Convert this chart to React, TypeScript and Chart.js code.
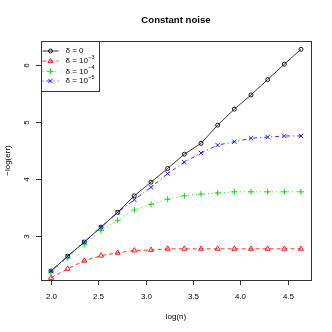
import React, { useEffect, useRef } from "react";
import { Chart, registerables } from "chart.js";

Chart.register(...registerables);

const xVals = [2.0, 2.176, 2.352, 2.528, 2.704, 2.88, 3.056, 3.232, 3.408, 3.584, 3.76, 3.936, 4.112, 4.288, 4.464, 4.64];
const delta0 = [2.38, 2.64, 2.89, 3.15, 3.41, 3.70, 3.94, 4.18, 4.43, 4.62, 4.94, 5.22, 5.47, 5.74, 6.01, 6.27];
const delta3 = [2.26, 2.42, 2.56, 2.65, 2.70, 2.74, 2.75, 2.77, 2.77, 2.77, 2.77, 2.77, 2.77, 2.77, 2.77, 2.77];
const delta4 = [2.36, 2.61, 2.85, 3.09, 3.27, 3.45, 3.55, 3.64, 3.70, 3.73, 3.75, 3.77, 3.77, 3.77, 3.77, 3.77];
const delta5 = [2.38, 2.64, 2.89, 3.15, 3.41, 3.63, 3.85, 4.09, 4.29, 4.45, 4.59, 4.65, 4.71, 4.73, 4.75, 4.75];
const xTicks = [2.0, 2.5, 3.0, 3.5, 4.0, 4.5];
const yTicks = [3, 4, 5, 6];
const legendExps = ["", "\u22123", "\u22124", "\u22125"];

const FONT = "'Liberation Sans', Arial, Helvetica, sans-serif";

const seriesStyle = [
  { color: "#000000", dash: [] as number[], point: "circle" },
  { color: "#ff0000", dash: [4, 3], point: "triangle" },
  { color: "#00cd00", dash: [1, 3], point: "plus" },
  { color: "#0000ff", dash: [1, 3, 4, 3], point: "x" },
];

function drawMarker(ctx: CanvasRenderingContext2D, kind: string, x: number, y: number, color: string) {
  ctx.save();
  ctx.strokeStyle = color;
  ctx.lineWidth = 0.9;
  ctx.setLineDash([]);
  ctx.beginPath();
  if (kind === "circle") {
    ctx.arc(x, y, 2, 0, Math.PI * 2);
  } else if (kind === "triangle") {
    ctx.moveTo(x, y - 2.6);
    ctx.lineTo(x + 2.5, y + 1.6);
    ctx.lineTo(x - 2.5, y + 1.6);
    ctx.closePath();
  } else if (kind === "plus") {
    ctx.moveTo(x - 3, y);
    ctx.lineTo(x + 3, y);
    ctx.moveTo(x, y - 3);
    ctx.lineTo(x, y + 3);
  } else {
    ctx.moveTo(x - 2.2, y - 2.2);
    ctx.lineTo(x + 2.2, y + 2.2);
    ctx.moveTo(x + 2.2, y - 2.2);
    ctx.lineTo(x - 2.2, y + 2.2);
  }
  ctx.stroke();
  ctx.restore();
}

const rAxesPlugin = {
  id: "rAxes",
  afterDatasetsDraw(chart: any) {
    const ctx: CanvasRenderingContext2D = chart.ctx;
    const { left, right, top, bottom } = chart.chartArea;
    const xs = chart.scales.x;
    const ys = chart.scales.y;
    ctx.save();
    ctx.strokeStyle = "#333";
    ctx.lineWidth = 1;
    ctx.setLineDash([]);
    ctx.strokeRect(Math.round(left) + 0.5, Math.round(top) + 0.5, Math.round(right - left), Math.round(bottom - top));
    ctx.fillStyle = "#000";
    ctx.font = `8px ${FONT}`;
    ctx.textAlign = "center";
    ctx.textBaseline = "middle";
    xTicks.forEach((t) => {
      const px = Math.round(xs.getPixelForValue(t)) + 0.5;
      ctx.beginPath();
      ctx.moveTo(px, Math.round(bottom) + 0.5);
      ctx.lineTo(px, Math.round(bottom) + 5);
      ctx.stroke();
      ctx.fillText(t.toFixed(1), px, bottom + 17);
    });
    yTicks.forEach((t) => {
      const py = Math.round(ys.getPixelForValue(t)) + 0.5;
      ctx.beginPath();
      ctx.moveTo(Math.round(left) + 0.5, py);
      ctx.lineTo(Math.round(left) - 5, py);
      ctx.stroke();
      ctx.save();
      ctx.translate(left - 14, py);
      ctx.rotate(-Math.PI / 2);
      ctx.fillText(String(t), 0, 0);
      ctx.restore();
    });
    ctx.fillText("log(n)", (left + right) / 2, bottom + 37);
    ctx.save();
    ctx.translate(8, (top + bottom) / 2);
    ctx.rotate(-Math.PI / 2);
    ctx.fillText("\u2212log(err)", 0, 0);
    ctx.restore();
    ctx.font = `bold 9.6px ${FONT}`;
    ctx.fillText("Constant noise", (left + right) / 2, 20);
    const lx = Math.round(left) + 0.5;
    const ly = Math.round(top) + 0.5;
    ctx.fillStyle = "#fff";
    ctx.fillRect(lx, ly, 58, 50);
    ctx.strokeStyle = "#333";
    ctx.strokeRect(lx, ly, 58, 50);
    const rows = [51, 61, 71.3, 81];
    rows.forEach((ry, i) => {
      const st = seriesStyle[i];
      ctx.strokeStyle = st.color;
      ctx.lineWidth = 0.8;
      ctx.setLineDash(st.dash);
      ctx.beginPath();
      ctx.moveTo(42.5, ry);
      ctx.lineTo(58.5, ry);
      ctx.stroke();
      ctx.setLineDash([]);
      drawMarker(ctx, st.point, 50.5, ry, st.color);
      ctx.fillStyle = "#000";
      ctx.textAlign = "left";
      ctx.font = `8px ${FONT}`;
      if (i === 0) {
        ctx.fillText("\u03b4 = 0", 65.5, ry);
      } else {
        const base = "\u03b4 = 10";
        ctx.fillText(base, 65.5, ry);
        const w = ctx.measureText(base).width;
        ctx.font = `5.5px ${FONT}`;
        ctx.fillText(legendExps[i], 65.5 + w + 0.3, ry - 3.5);
      }
    });
    ctx.restore();
  },
};

export default function App() {
  const ref = useRef<HTMLCanvasElement>(null);
  useEffect(() => {
    document.body.style.margin = "0";
    const canvas = ref.current!;
    const allSeries = [delta0, delta3, delta4, delta5];
    const labels = ["\u03b4 = 0", "\u03b4 = 10^-3", "\u03b4 = 10^-4", "\u03b4 = 10^-5"];
    const datasets = allSeries.map((vals, i) => {
      const st = seriesStyle[i];
      const ps = st.point === "circle" ? "circle" : st.point === "triangle" ? "triangle" : st.point === "plus" ? "cross" : "crossRot";
      return {
        label: labels[i],
        data: xVals.map((x, j) => ({ x, y: vals[j] })),
        showLine: true,
        borderColor: st.color,
        borderWidth: 0.8,
        borderDash: st.dash,
        pointStyle: ps,
        pointRadius: st.point === "circle" ? 2 : st.point === "triangle" ? 2.9 : st.point === "plus" ? 3 : 3.1,
        pointBorderWidth: 0.9,
        pointBorderColor: st.color,
        pointBackgroundColor: "rgba(0,0,0,0)",
        fill: false,
        tension: 0,
        order: 4 - i,
      };
    });
    const chart = new Chart(canvas, {
      type: "scatter",
      data: { datasets: datasets as any },
      options: {
        animation: false,
        responsive: false,
        maintainAspectRatio: false,
        layout: { padding: { left: 41, top: 41, right: 21, bottom: 52 } },
        plugins: { legend: { display: false }, tooltip: { enabled: false }, title: { display: false } },
        scales: {
          x: { type: "linear", display: false, min: 1.8944, max: 4.7456 },
          y: { type: "linear", display: false, min: 2.223, max: 6.416 },
        },
      },
      plugins: [rAxesPlugin],
    });
    return () => chart.destroy();
  }, []);
  return <canvas ref={ref} width={332} height={332} style={{ display: "block", width: 332, height: 332 }} />;
}
